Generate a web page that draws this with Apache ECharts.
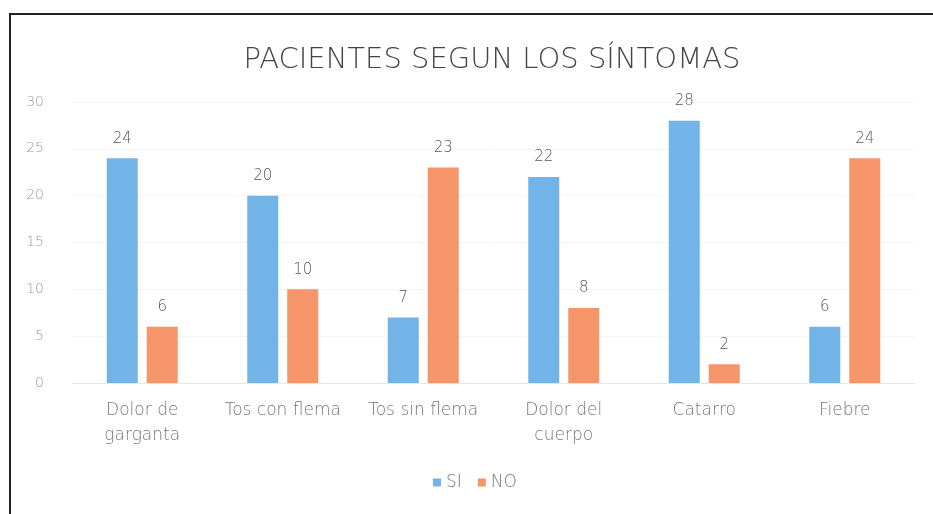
<!DOCTYPE html>
<html><head><meta charset="utf-8">
<script src="https://cdn.jsdelivr.net/npm/echarts@6/dist/echarts.min.js"></script>
<style>html,body{margin:0;padding:0;background:#fff}#c{width:933px;height:514px}</style>
</head><body><div id="c"></div>
<script>
const categories = ['Dolor de\ngarganta', 'Tos con flema', 'Tos sin flema', 'Dolor del\ncuerpo', 'Catarro', 'Fiebre'];
const siValues = [24, 20, 7, 22, 28, 6];
const noValues = [6, 10, 23, 8, 2, 24];
const seriesNames = ['SI', 'NO'];
const titleText = 'PACIENTES SEGUN LOS SÍNTOMAS';

const chart = echarts.init(document.getElementById('c'));
const font = 'DejaVu Sans';
chart.setOption({
  animation: false,
  backgroundColor: '#fff',
  title: { text: titleText, left: 487, textAlign: 'center', top: 41,
    textStyle: { fontFamily: font, fontWeight: 200, fontSize: 29, color: '#444' } },
  graphic: [
    { type: 'line', shape: { x1: 9, y1: 14, x2: 933, y2: 14 }, style: { stroke: '#222', lineWidth: 2 } },
    { type: 'line', shape: { x1: 10, y1: 14, x2: 10, y2: 514 }, style: { stroke: '#222', lineWidth: 2 } }
  ],
  legend: { data: seriesNames, bottom: 18, left: 428, itemWidth: 8, itemHeight: 8, itemGap: 16,
    icon: 'rect', textStyle: { fontFamily: font, fontWeight: 200, fontSize: 17, color: '#777' } },
  grid: { left: 72, right: 18, top: 102, bottom: 131, containLabel: false },
  xAxis: { type: 'category', data: categories,
    axisLine: { lineStyle: { color: '#e6e6e6' } }, axisTick: { show: false },
    axisLabel: { fontFamily: font, fontWeight: 200, fontSize: 17, color: '#777', margin: 15, lineHeight: 25, interval: 0 } },
  yAxis: { type: 'value', min: 0, max: 30, interval: 5,
    axisLine: { show: false }, axisTick: { show: false },
    splitLine: { lineStyle: { color: '#f4f4f4' } },
    axisLabel: { fontFamily: font, fontWeight: 200, fontSize: 14, color: '#999', margin: 28 } },
  series: [
    { name: seriesNames[0], type: 'bar', data: siValues, barWidth: 31, barGap: '29%',
      itemStyle: { color: '#72b3e8' },
      label: { show: true, position: 'top', distance: 12, fontFamily: font, fontWeight: 200, fontSize: 15, color: '#555' } },
    { name: seriesNames[1], type: 'bar', data: noValues, barWidth: 31,
      itemStyle: { color: '#f6946a' },
      label: { show: true, position: 'top', distance: 12, fontFamily: font, fontWeight: 200, fontSize: 15, color: '#555' } }
  ]
});
</script></body></html>
